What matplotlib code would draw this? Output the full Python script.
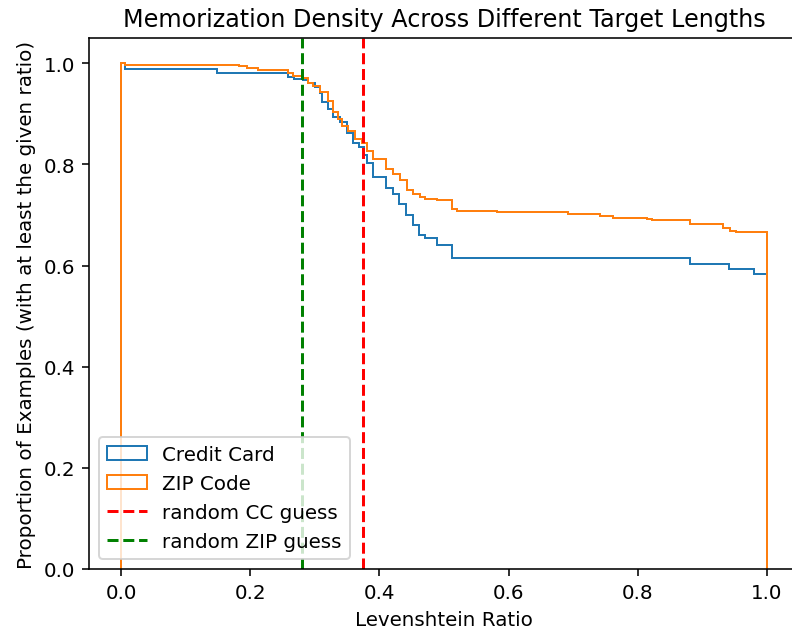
import matplotlib
matplotlib.use("Agg")
from matplotlib import pyplot as plt

# step curves: bin edges and the level on each bin
cc_edges = [0.0, 0.006, 0.149, 0.259, 0.268, 0.282, 0.289, 0.300, 0.308, 0.311,
            0.320, 0.328, 0.339, 0.350, 0.359, 0.368, 0.376, 0.381, 0.390, 0.410,
            0.421, 0.430, 0.441, 0.452, 0.461, 0.471, 0.489, 0.512, 0.881, 0.941,
            0.981, 1.0]
cc_levels = [1.0, 0.988, 0.980, 0.972, 0.968, 0.966, 0.961, 0.953, 0.941, 0.923,
             0.909, 0.893, 0.884, 0.862, 0.842, 0.834, 0.819, 0.803, 0.775, 0.754,
             0.742, 0.722, 0.700, 0.680, 0.661, 0.655, 0.641, 0.615, 0.604, 0.594,
             0.584]

zip_edges = [0.0, 0.006, 0.183, 0.195, 0.212, 0.259, 0.266, 0.282, 0.289, 0.297,
             0.308, 0.320, 0.328, 0.336, 0.342, 0.351, 0.362, 0.373, 0.381, 0.390,
             0.410, 0.421, 0.432, 0.443, 0.452, 0.463, 0.471, 0.489, 0.512, 0.520,
             0.582, 0.692, 0.741, 0.762, 0.814, 0.822, 0.881, 0.932, 0.943, 0.952,
             1.0]
zip_levels = [1.0, 0.997, 0.994, 0.991, 0.986, 0.980, 0.974, 0.970, 0.962, 0.955,
              0.943, 0.925, 0.903, 0.890, 0.876, 0.866, 0.850, 0.842, 0.826, 0.811,
              0.791, 0.781, 0.769, 0.750, 0.742, 0.736, 0.732, 0.730, 0.712, 0.708,
              0.705, 0.702, 0.698, 0.695, 0.692, 0.690, 0.682, 0.675, 0.669, 0.667]

cc_guess = 0.375
zip_guess = 0.28

DPI = 143
fig = plt.figure(figsize=(792 / DPI, 632 / DPI), dpi=DPI)
ax = fig.add_axes([89 / 792, 62 / 632, 710 / 792, 531 / 632])

ax.hist(cc_edges[:-1], bins=cc_edges, weights=cc_levels, histtype="step", label="Credit Card")
ax.hist(zip_edges[:-1], bins=zip_edges, weights=zip_levels, histtype="step", label="ZIP Code")
ax.axvline(cc_guess, color="red", linestyle="--", label="random CC guess")
ax.axvline(zip_guess, color="green", linestyle="--", label="random ZIP guess")

ax.set_title("Memorization Density Across Different Target Lengths")
ax.set_xlabel("Levenshtein Ratio")
ax.set_ylabel("Proportion of Examples (with at least the given ratio)")
ax.legend(loc="lower left")
# the reference is cropped just left of the right spine
ax.spines["right"].set_visible(False)

fig.savefig("out.png", dpi=DPI)
